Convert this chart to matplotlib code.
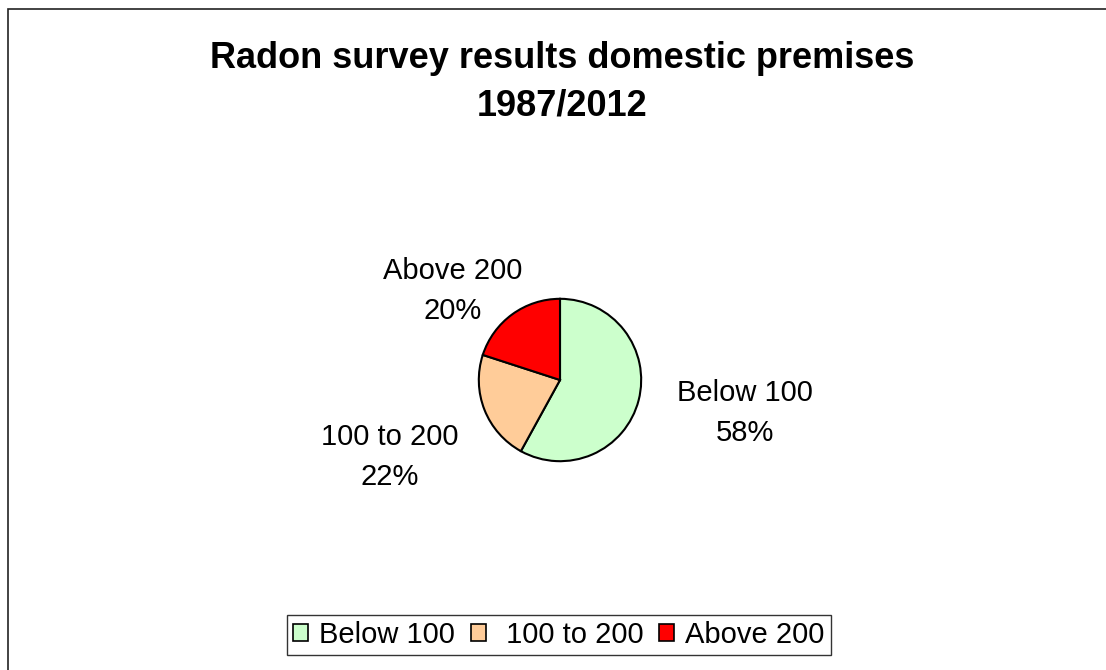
import matplotlib.pyplot as plt
from matplotlib.patches import Rectangle, Patch

plt.rcParams["font.family"] = ["Liberation Sans", "DejaVu Sans"]

categories = ["Below 100", "100 to 200", "Above 200"]
shares = [58, 22, 20]
colors = ["#CCFFCC", "#FFCC99", "#FF0000"]
# Excel left an extra space in front of the middle legend entry
legend_labels = ["Below 100", " 100 to 200", "Above 200"]

W, H = 1106, 670
fig = plt.figure(figsize=(W / 100, H / 100), dpi=100)

# chart area border (runs off the right and bottom edges like the original)
fig.patches.append(Rectangle((8 / W, -0.05), 1.2, 1 - 9 / H + 0.05,
                             transform=fig.transFigure, fill=False,
                             edgecolor="#222222", linewidth=1.2))

# pie centred at (560, 380) px, radius 82 px
cx, cy, r = 560, 380, 82
ax = fig.add_axes([(cx - r) / W, (H - cy - r) / H, 2 * r / W, 2 * r / H])
ax.pie(shares, colors=colors, startangle=90, counterclock=False,
       wedgeprops=dict(edgecolor="black", linewidth=1.5))
ax.set_xlim(-1.01, 1.01)
ax.set_ylim(-1.01, 1.01)
ax.set_aspect("equal")
ax.axis("off")

# data labels, placed where Excel put them
label_pos = [(745, 413), (390, 457), (453, 291)]
for name, pct, (x, y) in zip(categories, shares, label_pos):
    fig.text(x / W, 1 - y / H, f"{name}\n{pct}%", ha="center", va="center",
             fontsize=21, linespacing=1.52)

fig.text(562 / W, 1 - 82 / H, "Radon survey results domestic premises\n1987/2012",
         ha="center", va="center", fontsize=26, fontweight="bold",
         linespacing=1.45)

handles = [Patch(facecolor=c, edgecolor="black", linewidth=1.2) for c in colors]
leg = fig.legend(handles, legend_labels, loc="center",
                 bbox_to_anchor=(559 / W, 1 - 635 / H), ncol=3,
                 fontsize=21, frameon=True, fancybox=False,
                 handlelength=0.5, handleheight=0.5, handletextpad=0.4,
                 columnspacing=0.55, borderpad=0.2, borderaxespad=0)
leg.get_frame().set_edgecolor("black")
leg.get_frame().set_linewidth(1.0)

fig.savefig("out.png", dpi=100)
